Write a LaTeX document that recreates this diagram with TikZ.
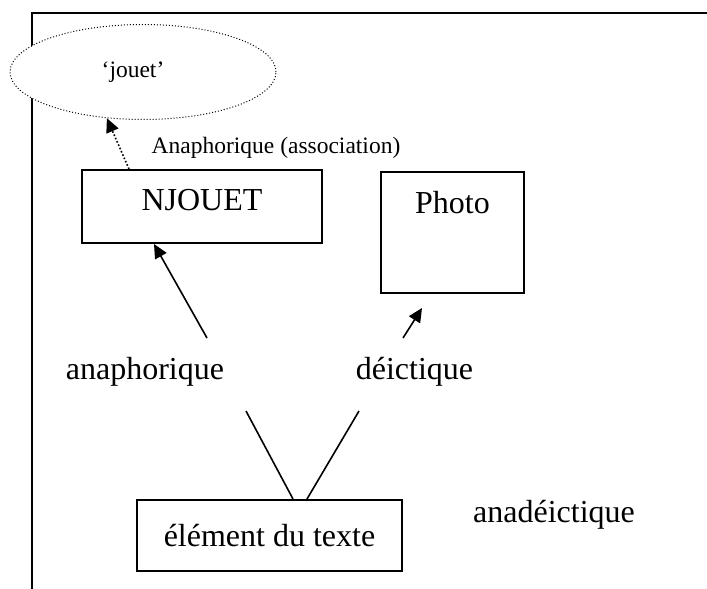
\documentclass[tikz,border=0pt]{standalone}
\usepackage{fontspec}
\setmainfont{Liberation Serif}
\usepackage{tikz}
\usetikzlibrary{arrows.meta,positioning,shapes.geometric}
\newcommand{\grand}{\fontsize{16}{19}\selectfont}
\newcommand{\petit}{\fontsize{11.75}{14}\selectfont}

\begin{document}
\begin{tikzpicture}[x=0.5pt,y=-0.5pt,
  boite/.style={draw,line width=1pt,inner sep=0pt,font=\grand},
  etiq/.style={inner sep=0pt,font=\grand},
  bulle/.style={ellipse,draw,densely dotted,line width=0.5pt,fill=white,minimum width=133pt,minimum height=47.5pt,inner sep=0pt,font=\petit},
  fleche/.style={-{Triangle[length=7pt,width=6.5pt]},line width=0.8pt},
  trait/.style={line width=0.8pt},
  node distance=0.5cm
]
\useasboundingbox (0,0) rectangle (707,589);

% cadre
\draw[line width=1.2pt] (32,589) -- (32,13) -- (707,13);

\node[bulle] (jouet) at (143,72) {‘jouet’\hspace*{10pt}};
\node[etiq,font=\petit,anchor=base] (assoc) at (276,153) {Anaphorique (association)};

% boites
\node[boite,minimum width=120pt,minimum height=36.5pt,text height=10.5pt,text depth=6.5pt] (njouet) at (202,206.5) {NJOUET};
\node[boite,minimum width=71.5pt,minimum height=60.5pt,text height=10.5pt,text depth=30pt,below right=1pt and 28.5pt of njouet.north east] (photo) {Photo};
\node[boite,minimum width=132.5pt,minimum height=35.5pt] (element) at (269.5,535.5) {élément du texte};

% etiquettes
\node[etiq,anchor=base] (anaph) at (145,379) {anaphorique};
\node[etiq,base right=65.5pt of anaph] (deic) {déictique};
\node[etiq,anchor=base] (anadeic) at (554,522) {anadéictique};

% liens
\coordinate (a1) at (207,338);
\coordinate (d1) at (403,338);
\coordinate (d2) at (422,308);
\coordinate (v1) at (246,411);
\coordinate (v2) at (359,411);
\draw[fleche,densely dotted] ([xshift=24pt]njouet.north west) -- (jouet.232);
\draw[fleche] (a1) -- ([xshift=36.5pt]njouet.south west);
\draw[fleche] (d1) -- (d2);
\draw[trait] (v1) -- ([xshift=78.5pt]element.north west);
\draw[trait] (v2) -- ([xshift=85.5pt]element.north west);
\end{tikzpicture}
\end{document}
